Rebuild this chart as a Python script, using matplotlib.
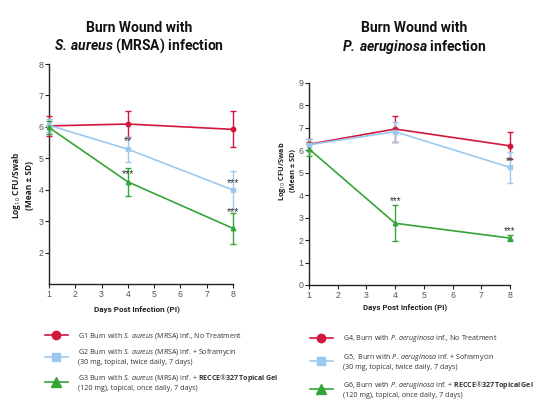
import matplotlib
matplotlib.use("Agg")
import matplotlib.pyplot as plt
from matplotlib.lines import Line2D

plt.rcParams['font.family'] = ['Open Sans', 'DejaVu Sans']
plt.rcParams['mathtext.fontset'] = 'custom'
plt.rcParams['mathtext.rm'] = 'Open Sans'
plt.rcParams['mathtext.it'] = 'Open Sans:italic'
plt.rcParams['mathtext.bf'] = 'Open Sans:bold'
plt.rcParams['mathtext.bfit'] = 'Roboto:italic:bold'

days = [1, 4, 8]

# S. aureus (MRSA)
g1_mean = [6.03, 6.09, 5.92]
g1_sd = [0.32, 0.42, 0.57]
g2_mean = [6.05, 5.29, 3.99]
g2_sd = [0.20, 0.40, 0.60]
g3_mean = [5.98, 4.25, 2.77]
g3_sd = [0.20, 0.44, 0.50]

# P. aeruginosa
g4_mean = [6.27, 6.95, 6.20]
g4_sd = [0.25, 0.58, 0.60]
g5_mean = [6.25, 6.83, 5.24]
g5_sd = [0.25, 0.45, 0.70]
g6_mean = [6.06, 2.75, 2.09]
g6_sd = [0.30, 0.80, 0.12]

left_stars_x = [4, 4, 8, 8]
left_stars_y = [5.38, 4.33, 4.05, 3.12]
left_stars = ['**', '***', '***', '***']
right_stars_x = [4, 8, 8]
right_stars_y = [3.50, 5.30, 2.20]
right_stars = ['***', '**', '***']

left_labels = [
    "G1 Burn with $\\mathit{S.\\,aureus}$ (MRSA) inf., No Treatment",
    "G2 Burn with $\\mathit{S.\\,aureus}$ (MRSA) inf. + Soframycin\n(30 mg, topical, twice daily, 7 days)",
    "G3 Burn with $\\mathit{S.\\,aureus}$ (MRSA) inf. + $\\mathbf{RECCE}$\u00ae$\\mathbf{327\\,Topical\\,Gel}$\n(120 mg), topical, once daily, 7 days)",
]
right_labels = [
    "G4, Burn with $\\mathit{P.\\,aeruginosa}$ inf., No Treatment",
    "G5,  Burn with $\\mathit{P.\\,aeruginosa}$ inf. + Soframycin\n(30 mg, topical, twice daily, 7 days)",
    "G6, Burn with $\\mathit{P.\\,aeruginosa}$ inf. + $\\mathbf{RECCE}$\u00ae$\\mathbf{327\\,Topical\\,Gel}$\n(120 mg), topical, once daily, 7 days)",
]

RED = '#d2173d'
BLUE = '#9cc9f0'
GREEN = '#35a537'
TICKC = '#555555'

fig = plt.figure(figsize=(5.51, 4.2), dpi=100)
fig.patch.set_facecolor('white')

ax1 = fig.add_axes([49/551, 1-284/420, 184/551, 220/420])
ax2 = fig.add_axes([309/551, 1-285/420, 201/551, 202/420])

def draw(ax, series, ylim, yticks):
    for mean, sd, col, mk in series:
        ax.errorbar(days, mean, yerr=sd, color=col, marker=mk, markersize=3.2,
                    lw=1.2, elinewidth=1.0, capsize=2, capthick=1.0, clip_on=False, zorder=3)
    ax.set_xlim(1, 8)
    ax.set_ylim(*ylim)
    ax.set_xticks(range(1, 9))
    ax.set_yticks(yticks)
    for s in ['top', 'right']:
        ax.spines[s].set_visible(False)
    for s in ['left', 'bottom']:
        ax.spines[s].set_linewidth(1.0)
        ax.spines[s].set_color('#222222')
    ax.tick_params(axis='both', length=2.8, width=0.8, color='#222222', labelsize=6.3,
                   labelcolor=TICKC, pad=1.2)
    for lab in ax.get_xticklabels() + ax.get_yticklabels():
        lab.set_family(['Liberation Sans', 'DejaVu Sans'])

draw(ax1, [(g1_mean, g1_sd, RED, 'o'), (g2_mean, g2_sd, BLUE, 's'), (g3_mean, g3_sd, GREEN, '^')],
     (1, 8), range(2, 9))
draw(ax2, [(g4_mean, g4_sd, RED, 'o'), (g5_mean, g5_sd, BLUE, 's'), (g6_mean, g6_sd, GREEN, '^')],
     (0, 9), range(0, 10))

for x, y, s in zip(left_stars_x, left_stars_y, left_stars):
    ax1.text(x, y, s, ha='center', va='bottom', fontsize=7.5, color='#333333',
             family=['Liberation Sans'])
for x, y, s in zip(right_stars_x, right_stars_y, right_stars):
    ax2.text(x, y, s, ha='center', va='bottom', fontsize=7.0, color='#333333',
             family=['Liberation Sans'])

# titles
TS = 10.0
TF = ['Roboto', 'DejaVu Sans']
fig.text(139/551, 1-28/420, "Burn Wound with", ha='center', va='center', fontsize=TS, fontweight='bold', color='#111111', family=TF)
fig.text(139/551, 1-46/420, r"$\mathbfit{S.\,aureus}$ (MRSA) infection", ha='center', va='center', fontsize=TS, fontweight='bold', color='#111111', family=TF)
fig.text(414/551, 1-28/420, "Burn Wound with", ha='center', va='center', fontsize=TS, fontweight='bold', color='#111111', family=TF)
fig.text(414/551, 1-47/420, r"$\mathbfit{P.\,aeruginosa}$ infection", ha='center', va='center', fontsize=TS, fontweight='bold', color='#111111', family=TF)

# axis labels
ylab = "Log$_{10}$ CFU/Swab\n(Mean \u00b1 SD)"
fig.text(22/551, 1-185/420, ylab, ha='center', va='center', rotation=90, fontsize=6.0,
         fontweight='bold', color='#222222', linespacing=1.25)
fig.text(287/551, 1-171/420, ylab, ha='center', va='center', rotation=90, fontsize=5.3,
         fontweight='bold', color='#222222', linespacing=1.25)
fig.text(137/551, 1-309/420, "Days Post Infection (PI)", ha='center', va='center', fontsize=5.9,
         fontweight='bold', color='#222222', family=TF)
fig.text(405/551, 1-307/420, "Days Post Infection (PI)", ha='center', va='center', fontsize=5.7,
         fontweight='bold', color='#222222', family=TF)

def handles():
    return [Line2D([], [], color=RED, marker='o', markersize=6, lw=1.2),
            Line2D([], [], color=BLUE, marker='s', markersize=6, lw=1.2),
            Line2D([], [], color=GREEN, marker='^', markersize=7, lw=1.2)]

leg1 = fig.legend(handles(), left_labels, loc='upper left', bbox_to_anchor=(45/551, 1-331/420),
                  frameon=False, fontsize=5.1, handlelength=3.2, handletextpad=1.5,
                  labelspacing=0.85, borderpad=0, borderaxespad=0, labelcolor='#333333')
leg2 = fig.legend(handles(), right_labels, loc='upper left', bbox_to_anchor=(310/551, 1-333/420),
                  frameon=False, fontsize=5.1, handlelength=3.2, handletextpad=1.5,
                  labelspacing=1.1, borderpad=0, borderaxespad=0, labelcolor='#333333')

fig.savefig('out.png', dpi=100, facecolor='white')
